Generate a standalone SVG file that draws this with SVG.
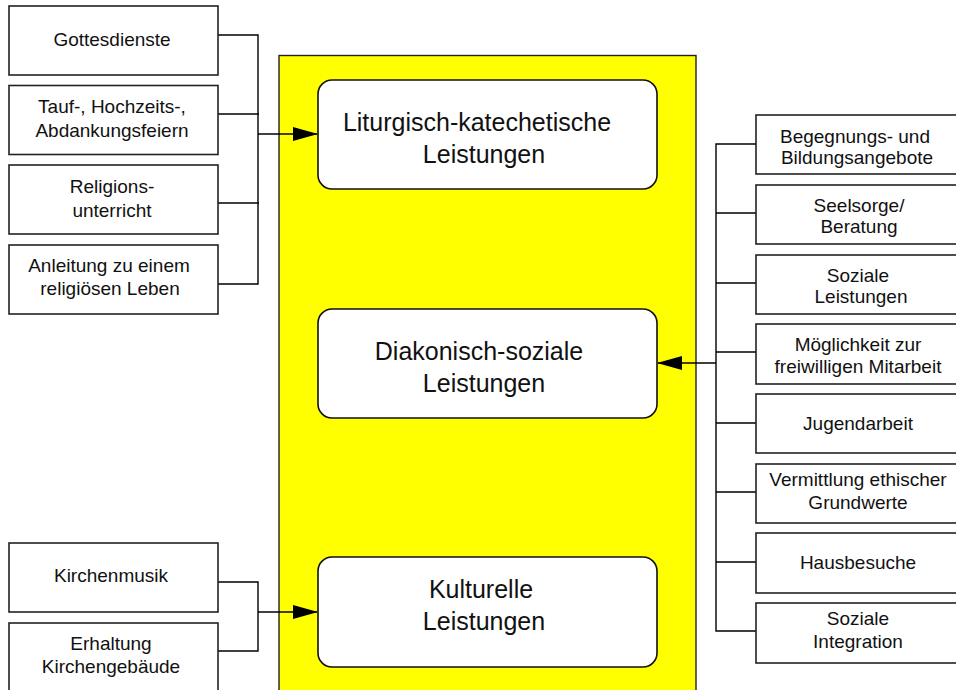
<svg xmlns="http://www.w3.org/2000/svg" width="956" height="690" viewBox="0 0 956 690">
<defs>
<style>
.box{fill:#fff;stroke:#222;stroke-width:1.6}
.rbox{fill:#fff;stroke:#111;stroke-width:1.6}
.t{font-family:"Liberation Sans",Arial,sans-serif;font-size:19px;fill:#111;text-anchor:middle}
.big{font-family:"Liberation Sans",Arial,sans-serif;font-size:25px;fill:#111;text-anchor:middle}
.ln{fill:none;stroke:#000;stroke-width:1.4}
</style>
<marker id="ah" markerWidth="25" markerHeight="14" refX="24" refY="7" orient="auto" markerUnits="userSpaceOnUse">
<path d="M0,0 L25,7 L0,14 Z" fill="#000"/>
</marker>
</defs>
<rect width="956" height="690" fill="#fff"/>
<rect id="container" x="279" y="55.5" width="417" height="640" fill="#ffff00" stroke="#222" stroke-width="1.4"/>

<g id="connectors">
<path class="ln" d="M218,35 H258 V284 H218"/>
<path class="ln" d="M218,114 H259"/>
<path class="ln" d="M218,203 H259"/>
<path class="ln" d="M258,134 H317" marker-end="url(#ah)"/>
<path class="ln" d="M218,582 H258 V651 H218"/>
<path class="ln" d="M258,612 H317" marker-end="url(#ah)"/>
<path class="ln" d="M756,144 H716 V631 H756"/>
<path class="ln" d="M716,213 H756 M716,283 H756 M716,352 H756 M716,423 H756 M716,492 H756 M716,562 H756"/>
<path class="ln" d="M716,363 H658" marker-end="url(#ah)"/>
</g>

<g id="n-gottesdienste"><rect class="box" x="9" y="6" width="209" height="69"/><text class="t" x="112" y="46">Gottesdienste</text></g>
<g id="n-tauf"><rect class="box" x="9" y="85.5" width="209" height="69"/><text class="t" x="112" y="113">Tauf-, Hochzeits-,</text><text class="t" x="112" y="137">Abdankungsfeiern</text></g>
<g id="n-religion"><rect class="box" x="9" y="165" width="209" height="69"/><text class="t" x="112" y="193">Religions-</text><text class="t" x="112" y="217">unterricht</text></g>
<g id="n-anleitung"><rect class="box" x="9" y="245" width="209" height="69"/><text class="t" x="109" y="272">Anleitung zu einem</text><text class="t" x="110" y="295">religiösen Leben</text></g>
<g id="n-kirchenmusik"><rect class="box" x="9" y="543" width="209" height="69"/><text class="t" x="111" y="582">Kirchenmusik</text></g>
<g id="n-erhaltung"><rect class="box" x="9" y="623" width="209" height="80"/><text class="t" x="111" y="650">Erhaltung</text><text class="t" x="111" y="673">Kirchengebäude</text></g>

<g id="n-liturgisch"><rect class="rbox" x="318" y="80" width="339" height="109" rx="14"/><text class="big" x="477" y="131">Liturgisch-katechetische</text><text class="big" x="484" y="163">Leistungen</text></g>
<g id="n-diakonisch"><rect class="rbox" x="318" y="309" width="339" height="109" rx="14"/><text class="big" x="479" y="360">Diakonisch-soziale</text><text class="big" x="484" y="392">Leistungen</text></g>
<g id="n-kulturell"><rect class="rbox" x="318" y="557" width="339" height="110" rx="14"/><text class="big" x="481" y="598">Kulturelle</text><text class="big" x="484" y="630">Leistungen</text></g>

<g id="n-begegnung"><rect class="box" x="756" y="115" width="210" height="59"/><text class="t" x="855" y="143">Begegnungs- und</text><text class="t" x="857" y="164">Bildungsangebote</text></g>
<g id="n-seelsorge"><rect class="box" x="756" y="185" width="210" height="59"/><text class="t" x="859" y="212">Seelsorge/</text><text class="t" x="859" y="233">Beratung</text></g>
<g id="n-soziale"><rect class="box" x="756" y="255" width="210" height="59"/><text class="t" x="858" y="282">Soziale</text><text class="t" x="861" y="303">Leistungen</text></g>
<g id="n-mitarbeit"><rect class="box" x="756" y="324" width="210" height="60"/><text class="t" x="858" y="351">Möglichkeit zur</text><text class="t" x="858" y="373">freiwilligen Mitarbeit</text></g>
<g id="n-jugend"><rect class="box" x="756" y="394" width="210" height="59"/><text class="t" x="858" y="430">Jugendarbeit</text></g>
<g id="n-ethik"><rect class="box" x="756" y="464" width="210" height="59"/><text class="t" x="858" y="486">Vermittlung ethischer</text><text class="t" x="858" y="509">Grundwerte</text></g>
<g id="n-haus"><rect class="box" x="756" y="533" width="210" height="60"/><text class="t" x="858" y="569">Hausbesuche</text></g>
<g id="n-integration"><rect class="box" x="756" y="603" width="210" height="60"/><text class="t" x="858" y="625">Soziale</text><text class="t" x="858" y="648">Integration</text></g>
</svg>
